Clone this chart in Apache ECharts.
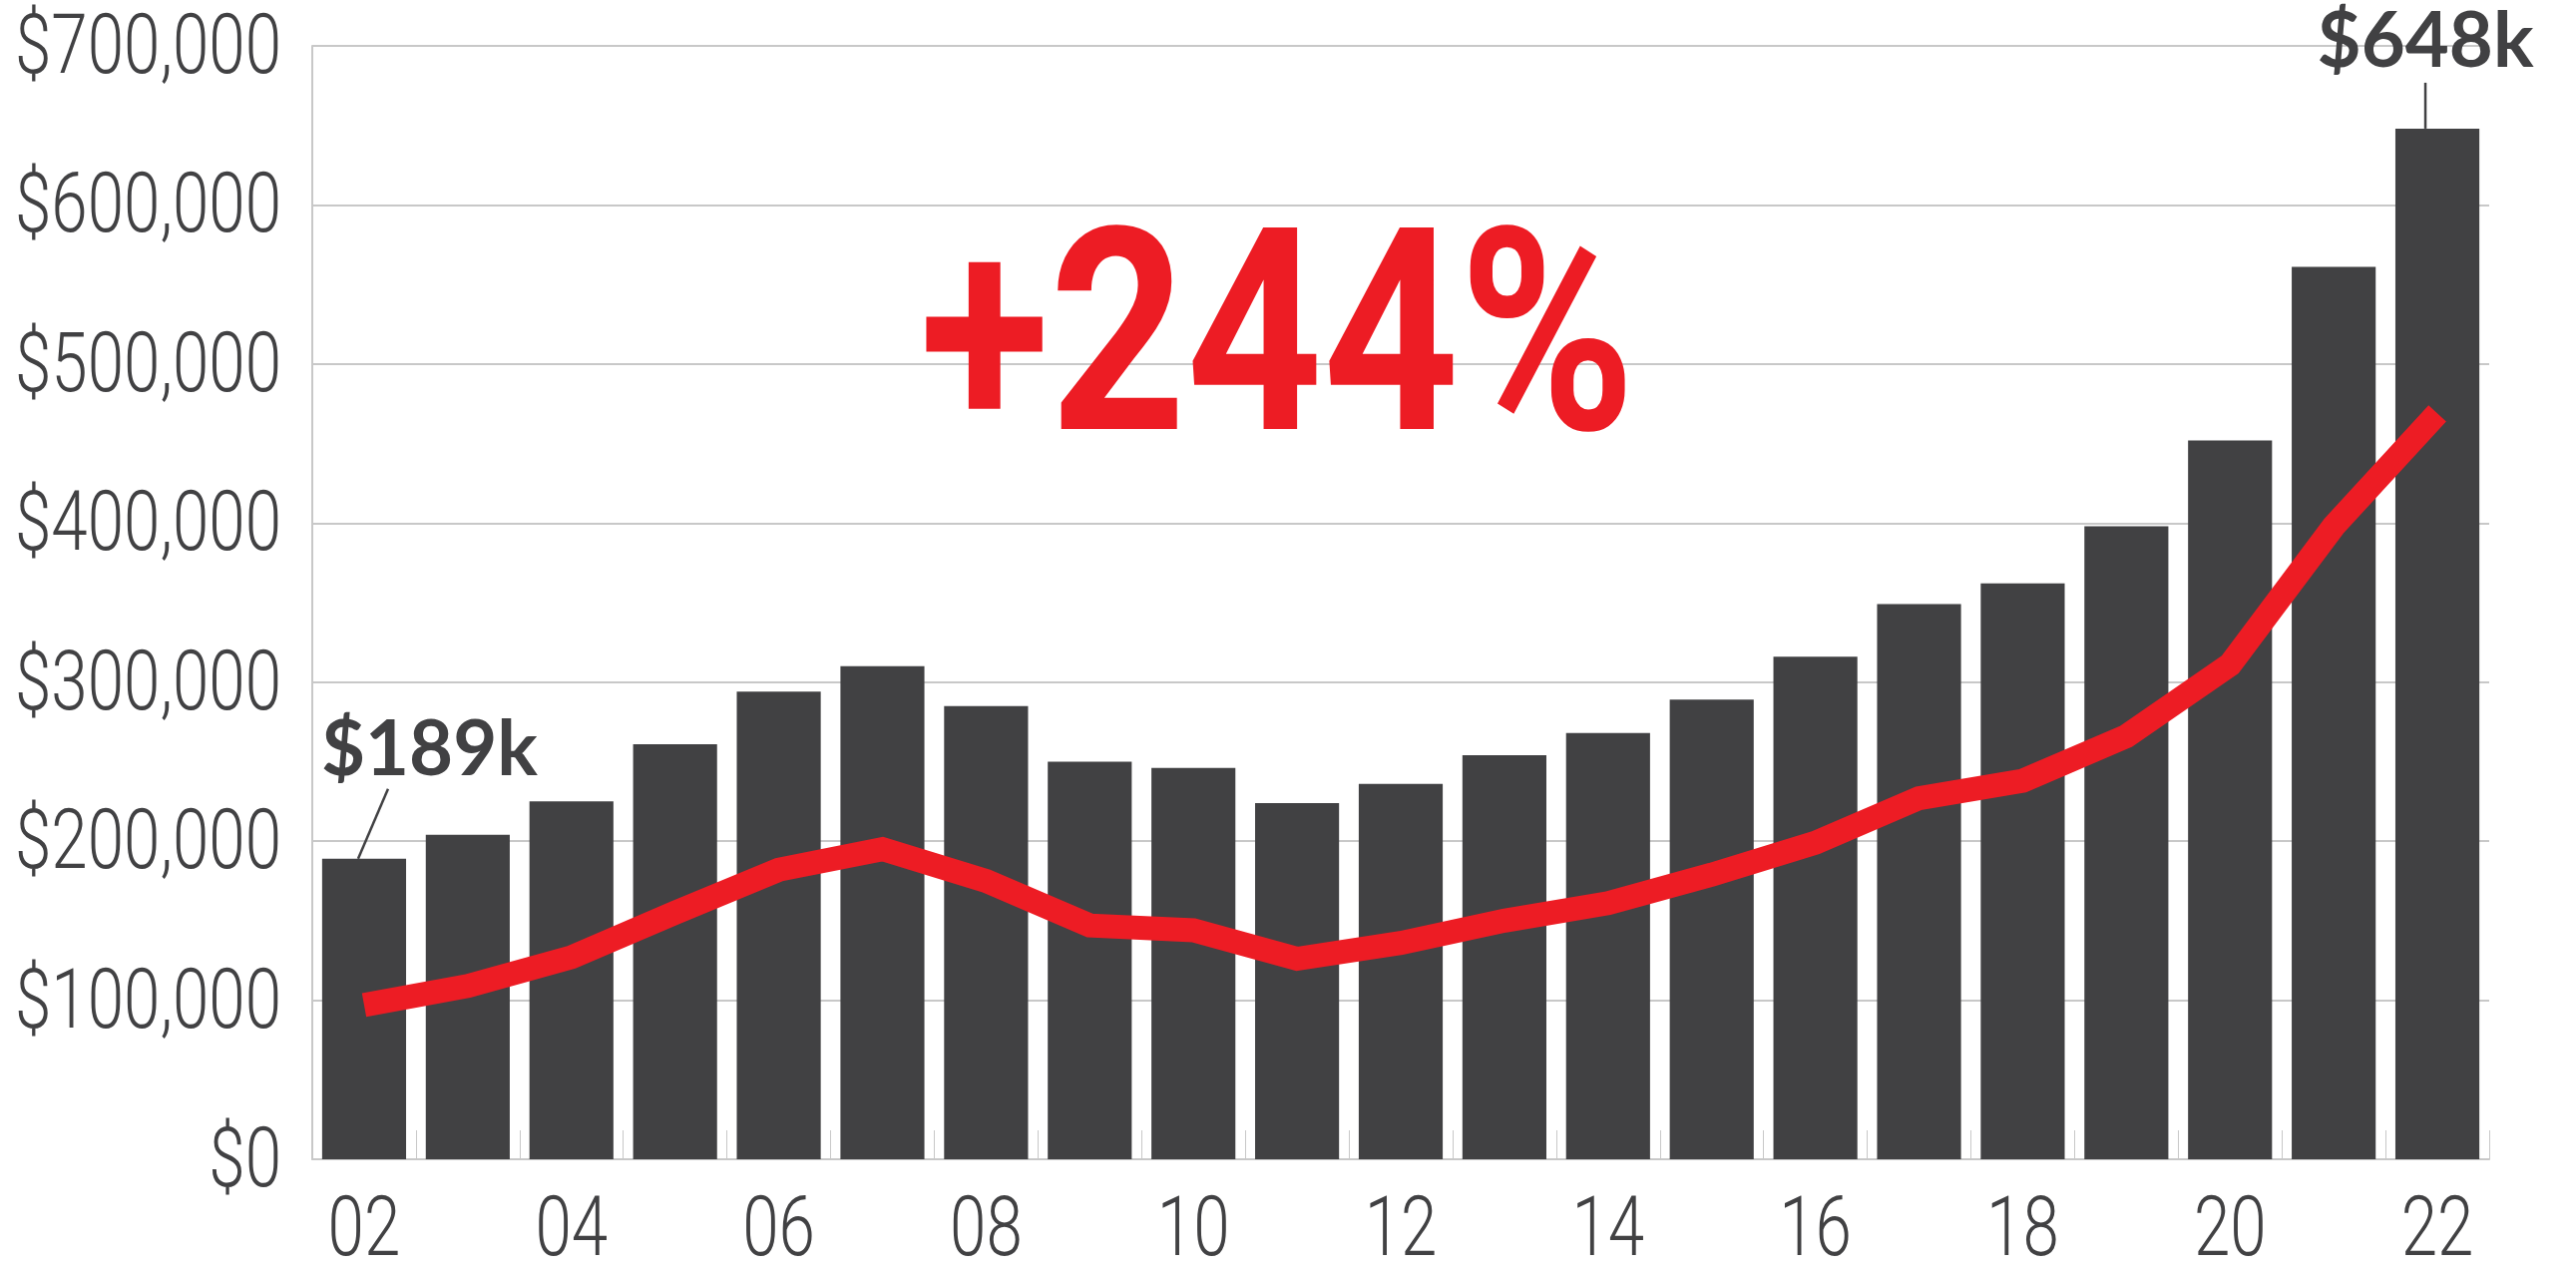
<!DOCTYPE html>
<html>
<head>
<meta charset="utf-8">
<title>Home prices 2002-2022</title>
<script src="https://cdn.jsdelivr.net/npm/echarts@6/dist/echarts.min.js"></script>
<style>
  html, body { margin: 0; padding: 0; background: #fff; }
  #main { width: 2582px; height: 1275px; }
</style>
</head>
<body>
<div id="main"></div>
<script>
// years 2002 - 2022 (two digit labels)
const years = ['02', '03', '04', '05', '06', '07', '08', '09', '10', '11', '12',
  '13', '14', '15', '16', '17', '18', '19', '20', '21', '22'];

// dark bars
const prices = [189000, 204000, 225000, 261000, 294000, 310000, 285000, 250000, 246000, 224000, 236000,
  254000, 268000, 289000, 316000, 349000, 362000, 398000, 452000, 561000, 648000];

// red line
const trend = [97000, 109000, 127000, 155000, 182000, 195000, 175000, 147000, 144000, 126000, 136000,
  150000, 161000, 179000, 199000, 227000, 238000, 266000, 311000, 398000, 469000];

// y tick labels
const yTicks = [0, 100000, 200000, 300000, 400000, 500000, 600000, 700000];

const headline = '+244%';

const DARK = '#414143';
const RED = '#ed1c24';
const GRID = '#c8c8c8';
// no condensed font installed, so labels are squeezed horizontally
const LABEL_FONT = '300 84px Roboto, sans-serif';
const SQUEEZE = 0.78;

const chart = echarts.init(document.getElementById('main'));

function money(v) {
  return '$' + v.toString().replace(/\B(?=(\d{3})+(?!\d))/g, ',');
}

const gridLeft = 313;

chart.setOption({
  animation: false,
  backgroundColor: '#fff',
  grid: { left: gridLeft, right: 87, top: 46, bottom: 113, containLabel: false, outerBoundsMode: 'none' },
  xAxis: {
    type: 'category',
    data: years,
    axisLine: { lineStyle: { color: GRID, width: 2 } },
    axisTick: { show: true, inside: true, length: 29, interval: 0, lineStyle: { color: GRID, width: 1 } },
    axisLabel: { show: false }
  },
  yAxis: {
    type: 'value',
    min: yTicks[0],
    max: yTicks[yTicks.length - 1],
    interval: yTicks[1] - yTicks[0],
    axisLine: { show: true, lineStyle: { color: GRID, width: 2 } },
    axisTick: { show: false },
    splitLine: { lineStyle: { color: GRID, width: 2 } },
    axisLabel: { show: false }
  },
  series: [
    {
      type: 'bar',
      data: prices,
      barCategoryGap: '19%',
      itemStyle: { color: DARK },
      z: 2
    },
    {
      type: 'line',
      data: trend,
      symbol: 'none',
      lineStyle: { color: RED, width: 24, join: 'miter' },
      z: 3
    }
  ]
});

const graphics = [];

// axis labels placed through the axes
yTicks.forEach(v => {
  const py = chart.convertToPixel({ yAxisIndex: 0 }, v);
  graphics.push({
    type: 'text', x: gridLeft - 31, y: py + 6, scaleX: SQUEEZE,
    style: { text: money(v), fill: DARK, font: LABEL_FONT, align: 'right', verticalAlign: 'middle' }
  });
});
years.forEach((yr, i) => {
  if (i % 2 !== 0) return;
  const px = chart.convertToPixel({ xAxisIndex: 0 }, i);
  graphics.push({
    type: 'text', x: px, y: 1237, scaleX: SQUEEZE,
    style: { text: yr, fill: DARK, font: LABEL_FONT, align: 'center', verticalAlign: 'middle' }
  });
});

// headline
graphics.push({
  type: 'text', x: 922, y: 359, scaleX: 0.84,
  style: { text: headline, fill: RED, font: 'bold 284px Roboto, sans-serif', align: 'left', verticalAlign: 'middle' }
});

// callouts for first and last bar
const first = 0;
const last = prices.length - 1;
const p0 = chart.convertToPixel({ seriesIndex: 0 }, [first, prices[first]]);
const p1 = chart.convertToPixel({ seriesIndex: 0 }, [last, prices[last]]);
const calloutFont = 'bold 76px Lato, sans-serif';
const k = v => '$' + Math.round(v / 1000) + 'k';

graphics.push(
  {
    type: 'line',
    shape: { x1: p0[0] - 6, y1: p0[1], x2: p0[0] + 24, y2: p0[1] - 70 },
    style: { stroke: DARK, lineWidth: 2.5 }
  },
  {
    type: 'text', x: p0[0] - 43, y: p0[1] - 108,
    style: { text: k(prices[first]), fill: DARK, font: calloutFont, align: 'left', verticalAlign: 'middle' }
  },
  {
    type: 'line',
    shape: { x1: p1[0] - 12, y1: p1[1], x2: p1[0] - 12, y2: p1[1] - 46 },
    style: { stroke: DARK, lineWidth: 2.5 }
  },
  {
    type: 'text', x: p1[0] - 12, y: p1[1] - 86,
    style: { text: k(prices[last]), fill: DARK, font: calloutFont, align: 'center', verticalAlign: 'middle' }
  }
);

chart.setOption({ graphic: graphics });
</script>
</body>
</html>
